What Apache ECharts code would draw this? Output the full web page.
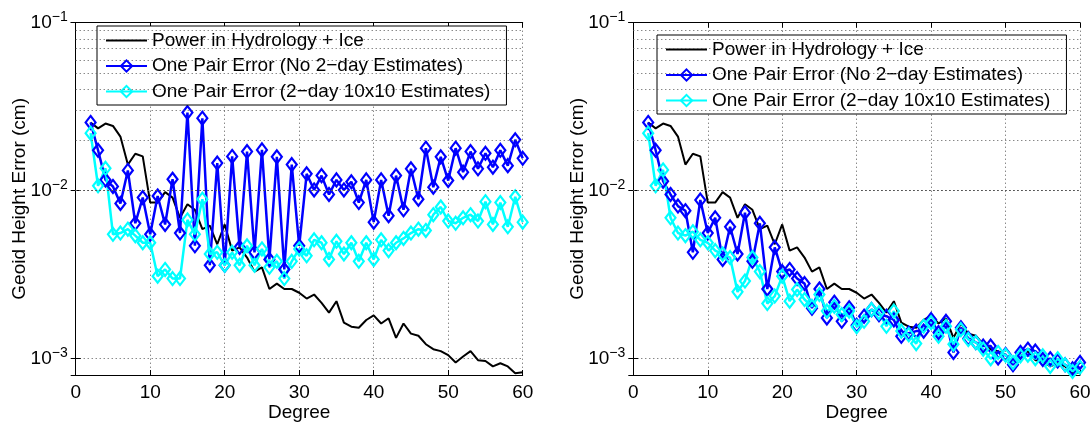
<!DOCTYPE html>
<html>
<head>
<meta charset="utf-8">
<script src="https://cdn.jsdelivr.net/npm/echarts@6/dist/echarts.min.js"></script>
<style>
  html, body { margin: 0; padding: 0; background: #fff; }
  #chart { width: 1092px; height: 423px; }
</style>
</head>
<body>
<div id="chart"></div>
<script>
// spherical harmonic degree, shared by every curve
const degrees = [2, 3, 4, 5, 6, 7, 8, 9, 10, 11, 12, 13, 14, 15, 16, 17, 18, 19, 20,
  21, 22, 23, 24, 25, 26, 27, 28, 29, 30, 31, 32, 33, 34, 35, 36, 37, 38, 39, 40,
  41, 42, 43, 44, 45, 46, 47, 48, 49, 50, 51, 52, 53, 54, 55, 56, 57, 58, 59, 60]

// geoid height (cm)
const hydroIcePower = [0.0255, 0.0235, 0.0251, 0.0243, 0.021, 0.0143, 0.0166, 0.016, 0.0085, 0.0085,
  0.0098, 0.0091, 0.0069, 0.0083, 0.0077, 0.0059, 0.0062, 0.0048, 0.0063, 0.0044,
  0.0046, 0.0040, 0.0033, 0.0035, 0.0026, 0.0028, 0.0026, 0.0026, 0.00247, 0.00228,
  0.00241, 0.00215, 0.00188, 0.0022, 0.00164, 0.00155, 0.00153, 0.0017, 0.00181, 0.00162,
  0.00174, 0.00133, 0.00162, 0.00141, 0.00137, 0.00122, 0.00114, 0.00111, 0.00105, 0.00095,
  0.00103, 0.00111, 0.00098, 0.00097, 0.0009, 0.00094, 0.0009, 0.00082, 0.00083]

const leftNoTwoDay = [0.0255, 0.0174, 0.0116, 0.0106, 0.0084, 0.0132, 0.0064, 0.0091, 0.0055, 0.0093,
  0.0063, 0.0117, 0.0056, 0.0292, 0.0047, 0.027, 0.0036, 0.0146, 0.0036, 0.016,
  0.0046, 0.0171, 0.0043, 0.0175, 0.0039, 0.0159, 0.0034, 0.0143, 0.0047, 0.0126,
  0.0101, 0.0123, 0.0095, 0.0116, 0.0101, 0.0113, 0.0085, 0.0116, 0.0065, 0.0116,
  0.0071, 0.0123, 0.0077, 0.0135, 0.0089, 0.0179, 0.0105, 0.0159, 0.0115, 0.0179,
  0.0129, 0.0171, 0.0135, 0.0167, 0.0138, 0.0174, 0.0141, 0.0201, 0.0156]

const leftTwoDay = [0.022, 0.0107, 0.0136, 0.0055, 0.0056, 0.0059, 0.0054, 0.0049, 0.0049, 0.0031,
  0.0034, 0.0030, 0.0030, 0.0067, 0.0055, 0.0089, 0.0042, 0.0043, 0.0036, 0.0043,
  0.0036, 0.0047, 0.0036, 0.0045, 0.0035, 0.0038, 0.0030, 0.0038, 0.0045, 0.0041,
  0.0051, 0.0049, 0.0039, 0.0050, 0.0042, 0.0049, 0.0038, 0.0049, 0.0039, 0.0051,
  0.0044, 0.0049, 0.0052, 0.0056, 0.0059, 0.0058, 0.0072, 0.0080, 0.0066, 0.0064,
  0.0069, 0.0072, 0.0066, 0.0086, 0.0063, 0.0085, 0.0061, 0.0092, 0.0065]

const rightNoTwoDay = [0.0255, 0.0174, 0.0114, 0.0095, 0.0081, 0.0076, 0.0043, 0.0088, 0.0056, 0.0069,
  0.0039, 0.0061, 0.0042, 0.0074, 0.0038, 0.0064, 0.0026, 0.0046, 0.0033, 0.0034,
  0.0030, 0.0028, 0.0020, 0.0026, 0.00175, 0.00217, 0.00167, 0.00201, 0.00158, 0.00179,
  0.00196, 0.00183, 0.00179, 0.0017, 0.00136, 0.00142, 0.00146, 0.00146, 0.00171, 0.00143,
  0.00167, 0.00109, 0.00153, 0.00132, 0.00125, 0.00119, 0.00119, 0.00101, 0.00106, 0.00092,
  0.00109, 0.00114, 0.00111, 0.00099, 0.001, 0.00097, 0.00092, 0.00087, 0.00095]

const rightTwoDay = [0.022, 0.0107, 0.0133, 0.0069, 0.0056, 0.0054, 0.0057, 0.0051, 0.0049, 0.0044,
  0.0042, 0.0040, 0.0025, 0.0029, 0.0040, 0.0033, 0.00213, 0.00236, 0.0031, 0.0022,
  0.00258, 0.00225, 0.00205, 0.00241, 0.00192, 0.00205, 0.00183, 0.00192, 0.00155, 0.00167,
  0.00196, 0.00188, 0.00156, 0.00192, 0.00146, 0.00139, 0.00123, 0.00156, 0.00164, 0.00136,
  0.00156, 0.00122, 0.00149, 0.0013, 0.00125, 0.00114, 0.001, 0.00109, 0.00105, 0.00095,
  0.00104, 0.00105, 0.001, 0.00104, 0.0009, 0.001, 0.00092, 0.00084, 0.00089]

// dotted minor grid of the log axis
const minorGridValues = [0.0009, 0.002, 0.003, 0.004, 0.005, 0.006, 0.007, 0.008, 0.009,
  0.02, 0.03, 0.04, 0.05, 0.06, 0.07, 0.08, 0.09]

const seriesNames = ['Power in Hydrology + Ice', 'One Pair Error (No 2\u2212day Estimates)',
  'One Pair Error (2\u2212day 10x10 Estimates)']

const FONT = '"Liberation Sans", Arial, Helvetica, sans-serif'
const dots = { type: [1, 3], color: '#555', width: 1 }

const pairs = vals => degrees.map((d, i) => [d, vals[i]])

const xAxisFor = (gridIndex, position) => {
  const main = position === 'bottom'
  return {
    type: 'value', gridIndex, position, min: 0, max: 60, interval: 10,
    name: main ? 'Degree' : '', nameLocation: 'middle', nameGap: 28, nameMoveOverlap: false,
    nameTextStyle: { fontSize: 19, color: '#000', fontFamily: FONT },
    axisLine: { show: true, onZero: false, lineStyle: { color: '#000', width: 1 } },
    axisTick: { show: true, inside: true, length: 5, lineStyle: { color: '#000' } },
    axisLabel: main ? { show: true, fontSize: 19, color: '#000', fontFamily: FONT, margin: 8 } : { show: false },
    splitLine: main ? { show: true, lineStyle: dots } : { show: false }
  }
}

const isPow10 = v => Math.abs(Math.log10(v) - Math.round(Math.log10(v))) < 1e-6

const yAxisFor = (gridIndex, position) => {
  const main = position === 'left'
  return {
    type: 'log', logBase: 10, gridIndex, position, min: 0.0008, max: 0.1,
    name: main ? 'Geoid Height Error (cm)' : '', nameLocation: 'middle', nameGap: 46,
    nameMoveOverlap: false,
    nameTextStyle: { fontSize: 19, color: '#000', fontFamily: FONT },
    axisLine: { show: true, lineStyle: { color: '#000', width: 1 } },
    axisTick: { show: true, inside: true, length: 5, lineStyle: { color: '#000' } },
    axisLabel: main ? {
      show: true, margin: 8, fontFamily: FONT, color: '#000',
      formatter: v => isPow10(v) ? '{b|10}{s|\u2212' + Math.abs(Math.round(Math.log10(v))) + '}' : '',
      rich: {
        b: { fontSize: 19, color: '#000', fontFamily: FONT },
        s: { fontSize: 14, color: '#000', fontFamily: FONT, padding: [0, 0, 12, 0] }
      }
    } : { show: false },
    splitLine: main ? { show: true, lineStyle: dots } : { show: false }
  }
}

const lineSeries = (name, vals, color, width, xi, yi, marker) => ({
  type: 'line', name, data: pairs(vals), xAxisIndex: xi, yAxisIndex: yi,
  symbol: marker ? 'diamond' : 'none', symbolSize: [10, 13], showAllSymbol: true,
  lineStyle: { color, width },
  itemStyle: { color: 'rgba(255,255,255,0)', borderColor: color, borderWidth: 2.2 },
  emphasis: { disabled: true }, silent: true, z: 3
})

const gridLines = (xi, yi) => ({
  type: 'line', data: [], xAxisIndex: xi, yAxisIndex: yi, silent: true,
  markLine: {
    silent: true, symbol: ['none', 'none'], label: { show: false },
    lineStyle: dots, emphasis: { disabled: true },
    data: minorGridValues.map(v => ({ yAxis: v }))
  },
  z: 1
})

const panelSeries = (xi, yi, noTwoDay, twoDay) => [
  gridLines(xi, yi),
  lineSeries(seriesNames[0], hydroIcePower, '#000000', 2, xi, yi, false),
  lineSeries(seriesNames[1], noTwoDay, '#0000ff', 2.5, xi, yi, true),
  lineSeries(seriesNames[2], twoDay, '#00ffff', 2.5, xi, yi, true)
]

const legendAt = (left, top) => ({
  data: [
    { name: seriesNames[0], itemStyle: { opacity: 0 } },
    { name: seriesNames[1] },
    { name: seriesNames[2] }
  ],
  left, top, orient: 'vertical', selectedMode: false,
  backgroundColor: '#fff', borderColor: '#000', borderWidth: 1,
  padding: [5, 16, 4, 8], itemGap: 6.5, itemWidth: 41, itemHeight: 14,
  textStyle: { fontSize: 19, lineHeight: 19, color: '#000', fontFamily: FONT }
})

const chart = echarts.init(document.getElementById('chart'), null, { renderer: 'canvas' })
chart.setOption({
  animation: false,
  backgroundColor: '#fff',
  textStyle: { fontFamily: FONT },
  grid: [
    { left: 75.7, top: 22.7, width: 447, height: 352.3, show: false, outerBoundsMode: 'none' },
    { left: 633.3, top: 22.7, width: 446.7, height: 352.3, show: false, outerBoundsMode: 'none' }
  ],
  xAxis: [xAxisFor(0, 'bottom'), xAxisFor(0, 'top'), xAxisFor(1, 'bottom'), xAxisFor(1, 'top')],
  yAxis: [yAxisFor(0, 'left'), yAxisFor(0, 'right'), yAxisFor(1, 'left'), yAxisFor(1, 'right')],
  legend: [legendAt(97, 26), legendAt(657, 35)],
  series: [
    ...panelSeries(0, 0, leftNoTwoDay, leftTwoDay),
    ...panelSeries(2, 2, rightNoTwoDay, rightTwoDay)
  ]
})
</script>
</body>
</html>
